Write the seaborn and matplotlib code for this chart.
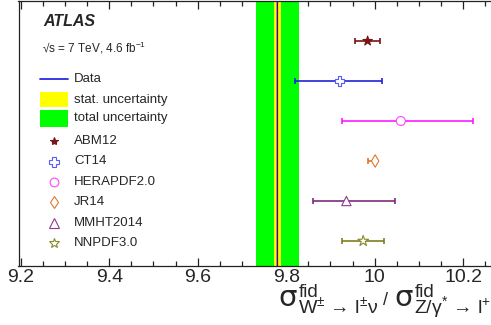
import numpy as np
import pandas as pd
import matplotlib
matplotlib.use("Agg")
import matplotlib.pyplot as plt
from matplotlib.lines import Line2D
from matplotlib.patches import Rectangle
from matplotlib.ticker import MultipleLocator
import seaborn as sns

# PDF-set predictions for the W/Z fiducial cross-section ratio
models = ["ABM12", "CT14", "HERAPDF2.0", "JR14", "MMHT2014", "NNPDF3.0"]
pred_central = [9.984, 9.920, 10.059, 10.001, 9.936, 9.974]
pred_low = [9.956, 9.820, 9.925, 9.984, 9.861, 9.927]
pred_high = [10.013, 10.016, 10.223, 10.006, 10.045, 10.020]

# measurement
data_central = 9.780
data_stat = 0.0075
data_total = 0.048

xtick_values = [9.2, 9.4, 9.6, 9.8, 10.0, 10.2]
xtick_labels = ["9.2", "9.4", "9.6", "9.8", "10", "10.2"]

sns.set_style("ticks")
plt.rcParams["font.family"] = ["Liberation Sans", "DejaVu Sans"]
plt.rcParams["mathtext.fontset"] = "custom"
plt.rcParams["mathtext.rm"] = "Liberation Sans"
plt.rcParams["mathtext.it"] = "Liberation Sans"
plt.rcParams["mathtext.bf"] = "Liberation Sans:bold"

W, H = 491, 325
fig = plt.figure(figsize=(W / 100, H / 100), dpi=100)
fig.patch.set_facecolor("white")


def fx(px):
    return px / W


def fy(py):
    return 1 - py / H


ax = fig.add_axes([fx(18.5), fy(266), (W - 18.5) / W, 265 / H])
ax.set_facecolor("white")

bar_colors = {"ABM12": "#7a1414", "CT14": "#2323d8", "HERAPDF2.0": "#ff1aff",
              "JR14": "#dd7426", "MMHT2014": "#7d2a80", "NNPDF3.0": "#7f7f22"}
edge_colors = {"ABM12": "#7a1414", "CT14": "#5a5aff", "HERAPDF2.0": "#ff44ff",
               "JR14": "#e0782c", "MMHT2014": "#8e3a90", "NNPDF3.0": "#8a8a2a"}
markers = {"ABM12": "*", "CT14": "P", "HERAPDF2.0": "o", "JR14": "d",
           "MMHT2014": "^", "NNPDF3.0": "*"}
msizes = {"ABM12": 50, "CT14": 45, "HERAPDF2.0": 42, "JR14": 40,
          "MMHT2014": 45, "NNPDF3.0": 65}
filled = {"ABM12": True}

df = pd.DataFrame({"model": models, "value": pred_central,
                   "low": pred_low, "high": pred_high,
                   "row": np.arange(len(models))})

# measurement bands
ax.axvspan(data_central - data_total, data_central + data_total,
           color="#00ff00", lw=0, zorder=1)
ax.axvspan(data_central - data_stat, data_central + data_stat,
           color="#ffff00", lw=0, zorder=2)
ax.axvline(data_central, color="#f08a28", lw=1.3, zorder=2.5)
ax.axvline(data_central, color="#1515c8", lw=0.9, zorder=2.6)

# prediction uncertainties
for _, r in df.iterrows():
    ax.errorbar(r["value"], r["row"],
                xerr=[[r["value"] - r["low"]], [r["high"] - r["value"]]],
                fmt="none", ecolor=bar_colors[r["model"]], elinewidth=1.2,
                capsize=2.3, capthick=1.2, zorder=3)

sns.scatterplot(data=df, x="value", y="row", hue="model", style="model",
                palette=edge_colors, markers=markers, legend=False,
                ax=ax, zorder=5)
pts = ax.collections[-1]
pts.set_facecolors([edge_colors[m] if filled.get(m) else "white" for m in models])
pts.set_edgecolors([edge_colors[m] for m in models])
pts.set_linewidths([0.8] * len(models))
pts.set_sizes([msizes[m] for m in models])

ax.set_xlim(9.195, 10.2628)
ax.set_ylim(5.625, -1)
ax.set_xticks(xtick_values)
ax.set_xticklabels(xtick_labels)
ax.xaxis.set_minor_locator(MultipleLocator(0.05))
ax.set_yticks([])
ax.tick_params(axis="x", which="major", direction="in", top=True, length=5.8,
               width=0.9, labelsize=14, pad=2.0, color="#222222")
ax.tick_params(axis="x", which="minor", direction="in", top=True, length=3.6,
               width=0.9, color="#222222")
ax.set_xlabel("")
ax.set_ylabel("")
for side in ["left", "bottom", "top"]:
    ax.spines[side].set_linewidth(0.9)
    ax.spines[side].set_color("#222222")
ax.spines["right"].set_visible(False)

# header texts
fig.text(fx(43), fy(21), "ATLAS", fontsize=11.5, fontweight="bold",
         fontstyle="italic", va="center", ha="left")
fig.text(fx(42), fy(48), "\u221as = 7 TeV, 4.6 fb$^{-1}$", fontsize=8.5,
         va="center", ha="left")

# legend: measurement
text_x = fx(74)
leg_fs = 9.5
fig.add_artist(Line2D([fx(40), fx(68)], [fy(79), fy(79)], color="#2a2ae0",
                      lw=1.3, transform=fig.transFigure))
fig.text(text_x, fy(79), "Data", fontsize=leg_fs, va="center", ha="left")
fig.add_artist(Rectangle((fx(40), fy(107)), fx(68) - fx(40), fy(92) - fy(107),
                         color="#ffff00", lw=0, transform=fig.transFigure))
fig.text(text_x, fy(99.5), "stat. uncertainty", fontsize=leg_fs, va="center", ha="left")
fig.add_artist(Rectangle((fx(40), fy(127)), fx(68) - fx(40), fy(110) - fy(127),
                         color="#00ff00", lw=0, transform=fig.transFigure))
fig.text(text_x, fy(118.5), "total uncertainty", fontsize=leg_fs, va="center", ha="left")

# legend: predictions
leg_rows = [141, 161.5, 182, 202, 222.5, 243]
leg_ms = {"ABM12": 6.0, "CT14": 6.5, "HERAPDF2.0": 6.3, "JR14": 6.0,
          "MMHT2014": 6.5, "NNPDF3.0": 7.5}
for m, py in zip(models, leg_rows):
    fig.add_artist(Line2D([fx(54)], [fy(py)], marker=markers[m], ms=leg_ms[m],
                          mec=edge_colors[m],
                          mfc=edge_colors[m] if filled.get(m) else "white",
                          mew=0.8, ls="none", transform=fig.transFigure))
    fig.text(text_x, fy(py), m, fontsize=leg_fs, va="center", ha="left")

# axis title, assembled piece by piece (runs past the right edge)
renderer = fig.canvas.get_renderer()


def put(x_px, base_px, s, size, family=None):
    kw = {"family": family} if family else {}
    t = fig.text(fx(x_px), fy(base_px), s, fontsize=size,
                 ha="left", va="baseline", **kw)
    return t.get_window_extent(renderer).x1


def sigma_term(x_px, sub):
    put(x_px, 305.5, "\u03c3", 21, family="DejaVu Sans")
    put(x_px + 20.5, 297, "fid", 13.5)
    return put(x_px + 20.5, 313.5, sub, 14)


x_end = sigma_term(278, "W$^{\\pm}$ \u2192 l$^{\\pm}$\u03bd")
x_end = put(x_end + 4, 305, "/", 13)
sigma_term(x_end + 6, "Z/\u03b3$^{*}$ \u2192 l$^{+}$l$^{-}$")

fig.savefig("out.png", dpi=100)
